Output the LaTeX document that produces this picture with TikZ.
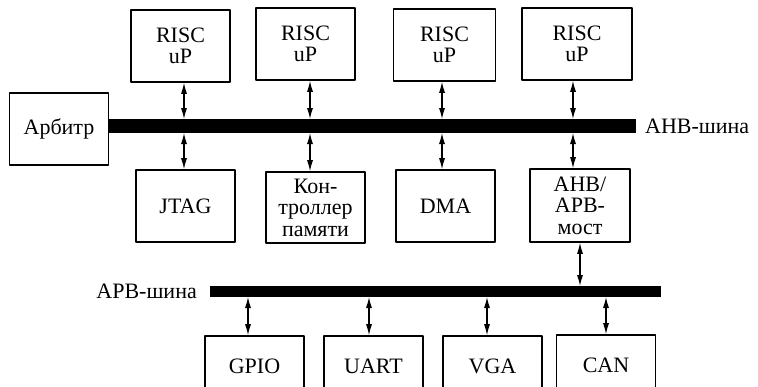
\documentclass[tikz,border=0pt]{standalone}
\usepackage{fontspec}
\setmainfont{Liberation Serif}
\usetikzlibrary{arrows.meta,positioning}

\begin{document}
\begin{tikzpicture}[x=1pt,y=-1pt,>={Latex[length=11pt,width=6pt]},line join=round,
  blk/.style={draw,line width=1.6pt,minimum width=99pt,minimum height=72pt,inner sep=1pt,
    align=center,font=\fontsize{22}{21.5}\selectfont},
  bus/.style={fill=black,inner sep=0pt,outer sep=0pt},
  link/.style={<->,line width=1.1pt},
  buslabel/.style={inner sep=0pt,font=\fontsize{22}{22}\selectfont}]
  \useasboundingbox (0,0) rectangle (758,386);
  % AHB side
  \node[blk] (r1) at (180.5,46) {RISC\\uP};
  \node[blk] (r2) at (305.5,44) {RISC\\uP};
  \node[blk,minimum width=102pt] (r3) at (444.5,45) {RISC\\uP};
  \node[blk,minimum width=110pt] (r4) at (577,44) {RISC\\uP};
  \node[blk] (arb) at (59,129) {Арбитр};
  \node[bus,minimum width=528pt,minimum height=14pt] (ahb) at (372,126) {};
  \node[buslabel,right=9pt of ahb] (ahbl) {AHB-шина};
  \node[blk] (jtag) at (185.5,206) {JTAG};
  \node[blk,minimum height=71pt] (mem) at (315.5,207.5) {Кон-\\троллер\\памяти};
  \node[blk] (dma) at (445.5,206) {DMA};
  \node[blk,minimum width=100pt,minimum height=73pt] (br) at (580,205.5) {AHB/\\APB-\\мост};
  % APB side
  \node[bus,minimum width=451pt,minimum height=11pt] (apb) at (435.5,291.5) {};
  \node[buslabel,left=13pt of apb] (apbl) {APB-шина};
  \node[blk,minimum height=60pt] (gpio) at (254.5,366) {GPIO};
  \node[blk,minimum height=60pt] (uart) at (373.5,366) {UART};
  \node[blk,minimum height=60pt] (vga) at (492.5,366) {VGA};
  \node[blk,minimum height=60pt] (can) at (606,365) {CAN};
  % taps on the buses
  \coordinate (a1) at (184,126);
  \coordinate (a2) at (310,126);
  \coordinate (a3) at (442,126);
  \coordinate (a4) at (573,126);
  \coordinate (b0) at (580,291);
  \coordinate (b1) at (248,291);
  \coordinate (b2) at (369,291);
  \coordinate (b3) at (487,291);
  \coordinate (b4) at (606,291);
  \draw[link] (a1 |- r1.south) -- (a1 |- ahb.north);
  \draw[link] (a2 |- r2.south) -- (a2 |- ahb.north);
  \draw[link] (a3 |- r3.south) -- (a3 |- ahb.north);
  \draw[link] (a4 |- r4.south) -- (a4 |- ahb.north);
  \draw[link] (a1 |- ahb.south) -- (a1 |- jtag.north);
  \draw[link] (a2 |- ahb.south) -- (a2 |- mem.north);
  \draw[link] (a3 |- ahb.south) -- (a3 |- dma.north);
  \draw[link] (a4 |- ahb.south) -- (a4 |- br.north);
  \draw[link] (b0 |- br.south) -- (b0 |- apb.north);
  \draw[link] (b1 |- apb.south) -- (b1 |- gpio.north);
  \draw[link] (b2 |- apb.south) -- (b2 |- uart.north);
  \draw[link] (b3 |- apb.south) -- (b3 |- vga.north);
  \draw[link] (b4 |- apb.south) -- (b4 |- can.north);
\end{tikzpicture}
\end{document}
